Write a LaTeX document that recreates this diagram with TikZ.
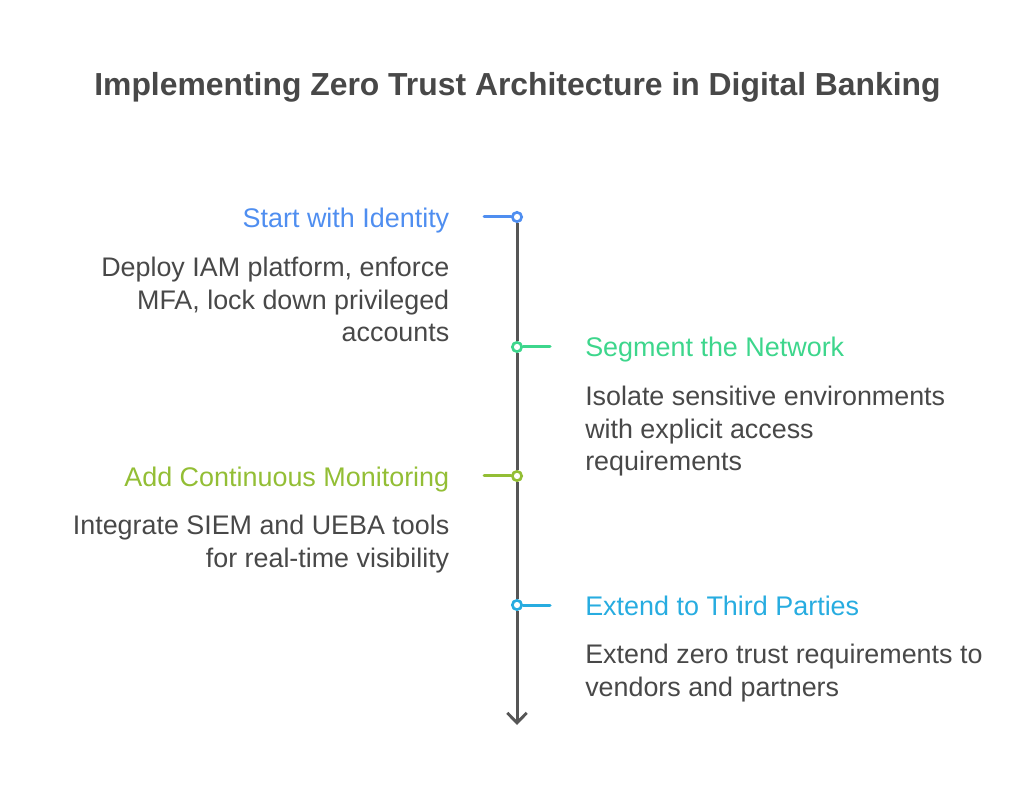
\documentclass[tikz,border=0pt]{standalone}
\usepackage{fontspec}
\setmainfont{Liberation Sans}
\usetikzlibrary{arrows.meta}

\definecolor{inkgray}{HTML}{484848}
\definecolor{axisgray}{HTML}{565656}
\definecolor{identityblue}{HTML}{4F8EF0}
\definecolor{networkgreen}{HTML}{3DD68C}
\definecolor{monitorgreen}{HTML}{93BE35}
\definecolor{partyblue}{HTML}{27ACE0}

\tikzset{
    heading/.style = {font = \fontsize{20.2}{24}\selectfont, inner sep = 0pt},
    body/.style = {font = \fontsize{20.15}{24.4}\selectfont, text = inkgray, inner sep = 0pt},
    marker/.style = {circle, draw = #1, fill = white, line width = 2pt, minimum size = 7pt, inner sep = 0pt},
    stub/.style = {draw = #1, line width = 2.25pt, line cap = round},
    axis/.style = {draw = axisgray, line width = 2.25pt}
}

\begin{document}
\begin{tikzpicture}[%
        x = 0.75pt,
        y = -0.75pt,
        > = {Straight Barb[length = 7.5pt, width = 14.5pt, line width = 2.2pt]}
    ]

        % Page.
        \useasboundingbox (0, 0) rectangle (1024, 787);

        % Title.
        \node[font = \fontsize{23.9}{30}\selectfont\bfseries, text = inkgray, inner sep = 0pt] (title) at (517.5, 87) {Implementing Zero Trust Architecture in Digital Banking};

        % Free ends.
        \coordinate (axisend) at (517, 725);
        \coordinate (identityend) at (484, 217);
        \coordinate (networkend) at (550, 347);
        \coordinate (monitorend) at (484, 476);
        \coordinate (partyend) at (550, 605);

        % Markers.
        \node[marker = identityblue] (identity) at (517, 217) {};
        \node[marker = networkgreen] (network) at (517, 347) {};
        \node[marker = monitorgreen] (monitor) at (517, 476) {};
        \node[marker = partyblue] (party) at (517, 605) {};

        % Axis.
        \draw[axis] (identity) to (network);
        \draw[axis] (network) to (monitor);
        \draw[axis] (monitor) to (party);
        \draw[->, axis] (party) to (axisend);

        % Stubs.
        \draw[stub = identityblue] (identityend) to (identity);
        \draw[stub = networkgreen] (network) to (networkend);
        \draw[stub = monitorgreen] (monitorend) to (monitor);
        \draw[stub = partyblue] (party) to (partyend);

        % Left column.
        \node[heading, text = identityblue, anchor = base east] (identitytitle) at (449.5, 227.5) {Start with Identity};
        \node[body, anchor = north east, align = right] (identitytext) at (449.5, 257) {Deploy IAM platform, enforce\\MFA, lock down privileged\\accounts};
        \node[heading, text = monitorgreen, anchor = base east] (monitortitle) at (449.5, 486) {Add Continuous Monitoring};
        \node[body, anchor = north east, align = right] (monitortext) at (449.5, 515) {Integrate SIEM and UEBA tools\\for real-time visibility};

        % Right column.
        \node[heading, text = networkgreen, anchor = base west] (networktitle) at (585, 357) {Segment the Network};
        \node[body, anchor = north west, align = left] (networktext) at (585, 386) {Isolate sensitive environments\\with explicit access\\requirements};
        \node[heading, text = partyblue, anchor = base west] (partytitle) at (585, 615) {Extend to Third Parties};
        \node[body, anchor = north west, align = left] (partytext) at (585, 644) {Extend zero trust requirements to\\vendors and partners};
    \end{tikzpicture}
\end{document}
